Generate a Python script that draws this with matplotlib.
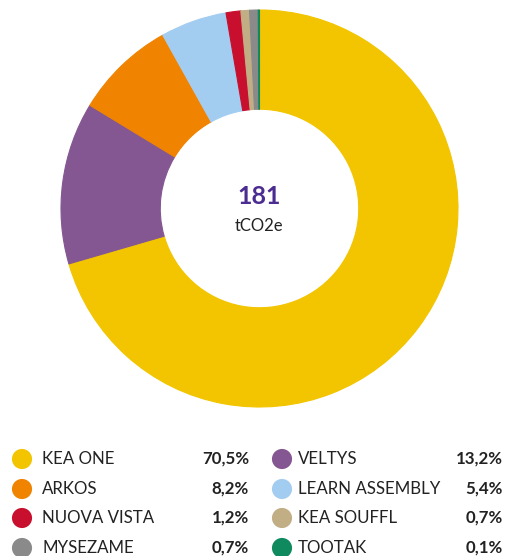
import matplotlib.pyplot as plt

# Emissions share per product (%), clockwise from 12 o'clock
labels = ['KEA ONE', 'VELTYS', 'ARKOS', 'LEARN ASSEMBLY', 'NUOVA VISTA',
          'KEA SOUFFL', 'MYSEZAME', 'TOOTAK']
shares = [70.5, 13.2, 8.2, 5.4, 1.2, 0.7, 0.7, 0.1]
pct_text = ['70,5%', '13,2%', '8,2%', '5,4%', '1,2%', '0,7%', '0,7%', '0,1%']
colors = ['#F2C500', '#845692', '#F08300', '#A3CDF0', '#C8102E',
          '#C2AE85', '#8A8A8A', '#0F8A5F']
total = '181'
unit = 'tCO2e'

# legend layout: rows of (left item, right item)
legend_left = ['KEA ONE', 'ARKOS', 'NUOVA VISTA', 'MYSEZAME']
legend_right = ['VELTYS', 'LEARN ASSEMBLY', 'KEA SOUFFL', 'TOOTAK']

plt.rcParams['font.family'] = ['Lato', 'DejaVu Sans']

W, H = 505, 556
fig = plt.figure(figsize=(W / 100, H / 100), dpi=100)

# donut
cx, cy, r = 259.5, 208.5, 198.5
ax = fig.add_axes([(cx - r) / W, 1 - (cy + r) / H, 2 * r / W, 2 * r / H])
wedges, _ = ax.pie(shares, colors=colors, startangle=90, counterclock=False,
                   wedgeprops=dict(width=0.5, linewidth=0.8))
for w in wedges:
    w.set_edgecolor(w.get_facecolor())
ax.set_xlim(-1, 1)
ax.set_ylim(-1, 1)
ax.set_aspect('equal')
ax.axis('off')
ax.text(0, 0.06, total, ha='center', va='center', fontsize=18,
        fontweight='bold', color='#4B2C91')
ax.text(0, -0.09, unit, ha='center', va='center', fontsize=12, color='#222222')

# legend drawn in pixel coordinates
lg = fig.add_axes([0, 0, 1, 1])
lg.set_xlim(0, W)
lg.set_ylim(H, 0)
lg.axis('off')
lg.patch.set_alpha(0)
row_y = [459, 489, 518, 548]
columns = [(legend_left, 22, 42, 249), (legend_right, 282, 298, 503)]
for names, mx, tx, px in columns:
    for name, y in zip(names, row_y):
        i = labels.index(name)
        lg.scatter([mx], [y], s=210, color=colors[i], edgecolors='none')
        lg.text(tx, y, name, ha='left', va='center', fontsize=12.2,
                color='#222222')
        lg.text(px, y, pct_text[i], ha='right', va='center', fontsize=12.2,
                fontweight='bold', color='#222222')

fig.savefig('out.png', dpi=100)
